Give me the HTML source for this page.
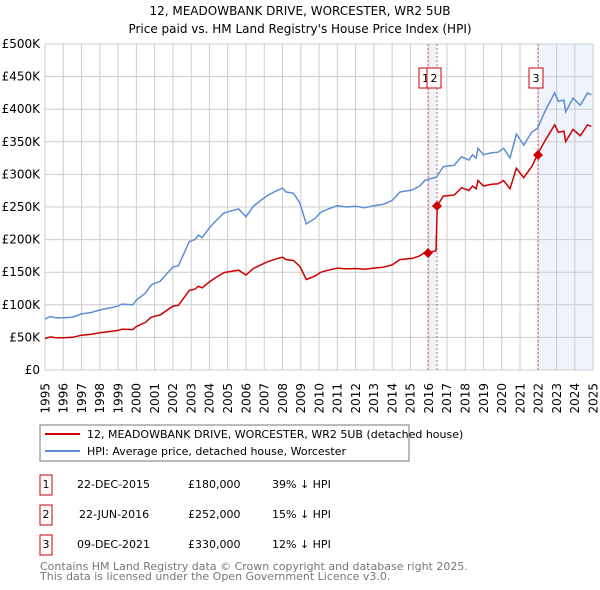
<!DOCTYPE html>
<html><head><meta charset="utf-8"><style>
body{margin:0;background:#fff;}
svg{display:block;font-family:"DejaVu Sans","Liberation Sans",sans-serif;}
</style></head><body>
<svg width="600" height="590" viewBox="0 0 600 590" xmlns="http://www.w3.org/2000/svg">
<text x="300" y="15" font-size="12" text-anchor="middle">12, MEADOWBANK DRIVE, WORCESTER, WR2 5UB</text>
<text x="300" y="33" font-size="12" text-anchor="middle">Price paid vs. HM Land Registry's House Price Index (HPI)</text>
<rect x="428" y="44" width="9" height="326" fill="#eef3fc"/>
<rect x="538" y="44" width="55" height="326" fill="#eef3fc"/>
<g id="grid" stroke="#cccccc" stroke-width="1"></g>
<line x1="428" y1="44" x2="428" y2="370" stroke="#e06060" stroke-dasharray="2,2"/>
<line x1="437" y1="44" x2="437" y2="370" stroke="#e06060" stroke-dasharray="2,2"/>
<line x1="538" y1="44" x2="538" y2="370" stroke="#e06060" stroke-dasharray="2,2"/>
<path id="blue" fill="none" stroke="#5b8fd4" stroke-width="1.5"/>
<path id="red" fill="none" stroke="#cc0000" stroke-width="1.5"/>
<g fill="#cc0000">
<path d="M428 248l5 5-5 5-5-5z"/><path d="M437 201l5 5-5 5-5-5z"/><path d="M538 150l5 5-5 5-5-5z"/>
</g>
<g font-size="11" text-anchor="middle">
<rect x="419" y="68" width="13" height="20" fill="#fff" stroke="#cc0000"/><text x="425.5" y="82">1</text>
<rect x="427" y="68" width="14" height="20" fill="#fff" stroke="#cc0000"/><text x="434" y="82">2</text>
<rect x="529" y="68" width="14" height="20" fill="#fff" stroke="#cc0000"/><text x="536" y="82">3</text>
</g>
<g id="ylab" font-size="12" text-anchor="end"></g>
<g font-size="12" text-anchor="end">
<text transform="translate(49.3,383) rotate(-90)">1995</text>
<text transform="translate(67.6,383) rotate(-90)">1996</text>
<text transform="translate(85.8,383) rotate(-90)">1997</text>
<text transform="translate(104.1,383) rotate(-90)">1998</text>
<text transform="translate(122.4,383) rotate(-90)">1999</text>
<text transform="translate(140.6,383) rotate(-90)">2000</text>
<text transform="translate(158.9,383) rotate(-90)">2001</text>
<text transform="translate(177.2,383) rotate(-90)">2002</text>
<text transform="translate(195.5,383) rotate(-90)">2003</text>
<text transform="translate(213.7,383) rotate(-90)">2004</text>
<text transform="translate(232,383) rotate(-90)">2005</text>
<text transform="translate(250.3,383) rotate(-90)">2006</text>
<text transform="translate(268.5,383) rotate(-90)">2007</text>
<text transform="translate(286.8,383) rotate(-90)">2008</text>
<text transform="translate(305.1,383) rotate(-90)">2009</text>
<text transform="translate(323.4,383) rotate(-90)">2010</text>
<text transform="translate(341.6,383) rotate(-90)">2011</text>
<text transform="translate(359.9,383) rotate(-90)">2012</text>
<text transform="translate(378.2,383) rotate(-90)">2013</text>
<text transform="translate(396.4,383) rotate(-90)">2014</text>
<text transform="translate(414.7,383) rotate(-90)">2015</text>
<text transform="translate(433,383) rotate(-90)">2016</text>
<text transform="translate(451.2,383) rotate(-90)">2017</text>
<text transform="translate(469.5,383) rotate(-90)">2018</text>
<text transform="translate(487.8,383) rotate(-90)">2019</text>
<text transform="translate(506.1,383) rotate(-90)">2020</text>
<text transform="translate(524.3,383) rotate(-90)">2021</text>
<text transform="translate(542.6,383) rotate(-90)">2022</text>
<text transform="translate(560.9,383) rotate(-90)">2023</text>
<text transform="translate(579.1,383) rotate(-90)">2024</text>
<text transform="translate(597.4,383) rotate(-90)">2025</text>
</g>
<rect x="40" y="425" width="369" height="36" fill="#fff" stroke="#777"/>
<line x1="45" y1="434" x2="80" y2="434" stroke="#cc0000" stroke-width="2"/>
<line x1="45" y1="451" x2="80" y2="451" stroke="#5b8fd4" stroke-width="2"/>
<text x="87" y="438" font-size="11">12, MEADOWBANK DRIVE, WORCESTER, WR2 5UB (detached house)</text>
<text x="87" y="455" font-size="11">HPI: Average price, detached house, Worcester</text>
<g font-size="11">
<rect x="40" y="475" width="12" height="20" fill="none" stroke="#cc0000"/><text x="46" y="488" text-anchor="middle">1</text>
<text x="77" y="488">22-DEC-2015</text><text x="188" y="488">£180,000</text><text x="272" y="488">39% ↓ HPI</text>
<rect x="40" y="505" width="12" height="20" fill="none" stroke="#cc0000"/><text x="46" y="518" text-anchor="middle">2</text>
<text x="79" y="518">22-JUN-2016</text><text x="188" y="518">£252,000</text><text x="272" y="518">15% ↓ HPI</text>
<rect x="40" y="535" width="12" height="20" fill="none" stroke="#cc0000"/><text x="46" y="548" text-anchor="middle">3</text>
<text x="77" y="548">09-DEC-2021</text><text x="188" y="548">£330,000</text><text x="272" y="548">12% ↓ HPI</text>
</g>
<text x="40" y="570" font-size="11" fill="#777">Contains HM Land Registry data © Crown copyright and database right 2025.</text>
<text x="40" y="580" font-size="11" fill="#777">This data is licensed under the Open Government Licence v3.0.</text>
</svg>
<script>
(function(){
var X=function(t){return 45+(t-1995)*18.27},Y=function(v){return 370-v*0.652};
var g=document.getElementById('grid'),yl=document.getElementById('ylab'),h='',yh='';
for(var k=0;k<=10;k++){var y=Y(k*50);h+='<line x1="45" y1="'+y+'" x2="593" y2="'+y+'"/>';yh+='<text x="40" y="'+(y+4)+'">'+(k?'£'+k*50+'K':'£0')+'</text>';}
for(var yr=1995;yr<=2025;yr++){var x=X(yr);h+='<line x1="'+x+'" y1="44" x2="'+x+'" y2="370"/>';}
g.innerHTML=h;yl.innerHTML=yh;
var b=[[1995,78],[1995.3,82],[1995.6,80],[1996,80],[1996.5,81],[1997,86],[1997.5,88],[1998,92],[1998.5,95],[1999,98],[1999.2,101],[1999.8,100],[2000,107],[2000.5,118],[2000.8,130],[2001,133],[2001.3,136],[2002,158],[2002.3,160],[2002.9,197],[2003.2,200],[2003.4,207],[2003.6,203],[2004,218],[2004.4,230],[2004.8,241],[2005.3,245],[2005.6,247],[2005.8,241],[2006,235],[2006.4,251],[2006.8,260],[2007.2,268],[2007.6,274],[2008,279],[2008.2,273],[2008.6,271],[2008.95,256],[2009.3,224],[2009.8,233],[2010.1,242],[2010.5,247],[2011,252],[2011.5,250],[2012,251],[2012.5,249],[2013,252],[2013.5,254],[2014,260],[2014.43,273],[2015.1,276],[2015.5,282],[2015.8,291],[2016.44,296],[2016.8,312],[2017.4,314],[2017.8,327],[2018.2,322],[2018.4,330],[2018.6,325],[2018.7,340],[2019,330],[2019.4,333],[2019.8,334],[2020.1,340],[2020.45,325],[2020.8,362],[2021.2,345],[2021.65,365],[2021.96,371],[2022.4,399],[2022.9,425],[2023.1,412],[2023.4,414],[2023.5,396],[2023.9,417],[2024.3,406],[2024.7,425],[2024.9,422]];
var pb='';b.forEach(function(p,i){pb+=(i?'L':'M')+X(p[0]).toFixed(1)+' '+Y(p[1]).toFixed(1);});
document.getElementById('blue').setAttribute('d',pb);
var r=[];b.forEach(function(p){if(p[0]<2015.97)r.push([p[0],p[1]*0.62]);});
r.push([2015.97,180],[2016.4,183],[2016.47,252]);
b.forEach(function(p){if(p[0]>2016.47&&p[0]<2021.94)r.push([p[0],p[1]*0.855]);});
r.push([2021.94,330]);
b.forEach(function(p){if(p[0]>2021.96)r.push([p[0],p[1]*0.885]);});
var pr='';r.forEach(function(p,i){pr+=(i?'L':'M')+X(p[0]).toFixed(1)+' '+Y(p[1]).toFixed(1);});
document.getElementById('red').setAttribute('d',pr);
})();
</script>
</body></html>
